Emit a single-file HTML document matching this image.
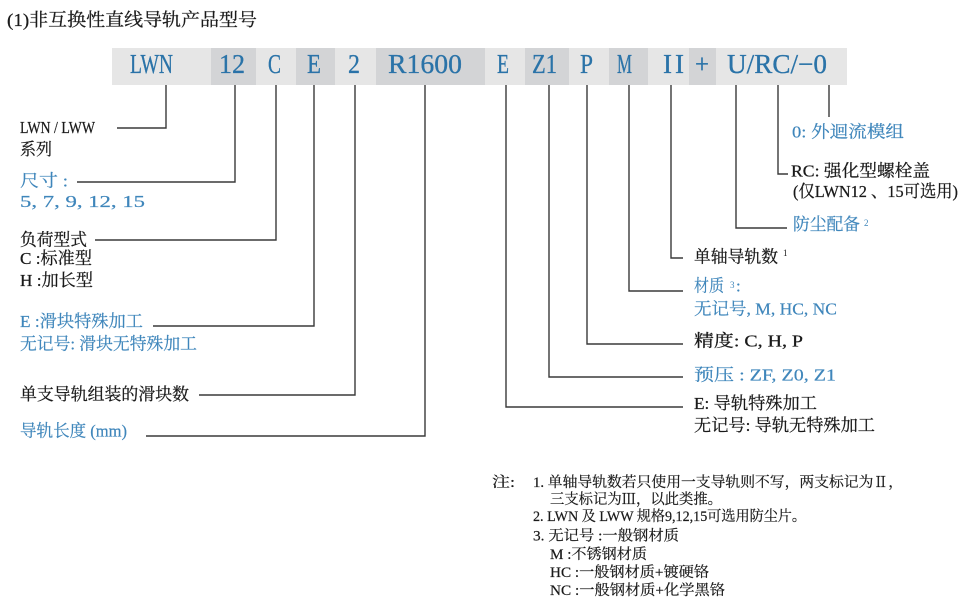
<!DOCTYPE html>
<html><head><meta charset="utf-8"><style>
html,body{margin:0;padding:0;background:#fff;}
svg{display:block;}
text{font-family:"Liberation Serif","Noto Serif CJK SC",serif;}
.k{fill:#1a1a1a;font-size:17px;stroke:#1a1a1a;stroke-width:0.25px;}
.b{fill:#3f86bb;font-size:17px;stroke:#3f86bb;stroke-width:0.2px;}
.n{fill:#1a1a1a;font-size:14.5px;stroke:#1a1a1a;stroke-width:0.2px;}
.bar{fill:#2a73a8;font-size:27px;stroke:#2a73a8;stroke-width:0.3px;}
.sup{font-size:9px;stroke-width:0;}
</style></head><body>
<svg width="966" height="607" viewBox="0 0 966 607" xmlns="http://www.w3.org/2000/svg">
<text x="7" y="26" class="k" style="font-size:18px" textLength="250" lengthAdjust="spacingAndGlyphs">(1)非互换性直线导轨产品型号</text>

<g>
<rect x="112" y="48" width="99" height="37" fill="#e6e6e6"/>
<rect x="211" y="48" width="45" height="37" fill="#d3d4d6"/>
<rect x="256" y="48" width="40" height="37" fill="#e6e6e6"/>
<rect x="296" y="48" width="39" height="37" fill="#d3d4d6"/>
<rect x="335" y="48" width="41" height="37" fill="#e6e6e6"/>
<rect x="376" y="48" width="109" height="37" fill="#d3d4d6"/>
<rect x="485" y="48" width="40" height="37" fill="#e6e6e6"/>
<rect x="525" y="48" width="44" height="37" fill="#d3d4d6"/>
<rect x="569" y="48" width="40" height="37" fill="#e6e6e6"/>
<rect x="609" y="48" width="39" height="37" fill="#d3d4d6"/>
<rect x="648" y="48" width="41" height="37" fill="#e6e6e6"/>
<rect x="689" y="48" width="27" height="37" fill="#d3d4d6"/>
<rect x="716" y="48" width="131" height="37" fill="#e6e6e6"/>
</g>
<g>
<text x="130" y="73" class="bar" textLength="43" lengthAdjust="spacingAndGlyphs">LWN</text>
<text x="219" y="73" class="bar" textLength="26" lengthAdjust="spacingAndGlyphs">12</text>
<text x="268" y="73" class="bar" textLength="13" lengthAdjust="spacingAndGlyphs">C</text>
<text x="307" y="73" class="bar" textLength="14" lengthAdjust="spacingAndGlyphs">E</text>
<text x="348" y="73" class="bar" textLength="12" lengthAdjust="spacingAndGlyphs">2</text>
<text x="388" y="73" class="bar" textLength="74" lengthAdjust="spacingAndGlyphs">R1600</text>
<text x="497" y="73" class="bar" textLength="12" lengthAdjust="spacingAndGlyphs">E</text>
<text x="532" y="73" class="bar" textLength="25" lengthAdjust="spacingAndGlyphs">Z1</text>
<text x="580" y="73" class="bar" textLength="13" lengthAdjust="spacingAndGlyphs">P</text>
<text x="617" y="73" class="bar" textLength="15" lengthAdjust="spacingAndGlyphs">M</text>
<text x="663" y="73" class="bar" textLength="21" lengthAdjust="spacing">II</text>
<text x="695" y="73" class="bar" textLength="14" lengthAdjust="spacingAndGlyphs">+</text>
<text x="727" y="73" class="bar" textLength="100" lengthAdjust="spacingAndGlyphs">U/RC/−0</text>
</g>

<g fill="none" stroke="#3a3a3a" stroke-width="1.4">
<polyline points="166,85 166,128 117,128"/>
<polyline points="235,85 235,182 77,182"/>
<polyline points="276,85 276,240 95,240"/>
<polyline points="314,85 314,326 153,326"/>
<polyline points="355,85 355,395 199,395"/>
<polyline points="425,85 425,436 146,436"/>
<polyline points="506,85 506,407 683,407"/>
<polyline points="549,85 549,377 683,377"/>
<polyline points="587,85 587,344 683,344"/>
<polyline points="629,85 629,291 683,291"/>
<polyline points="671,85 671,258 683,258"/>
<polyline points="736,85 736,228 787,228"/>
<polyline points="778,85 778,174 788,174"/>
<polyline points="829,85 829,117"/>
</g>

<text x="20" y="133" class="k" textLength="75" lengthAdjust="spacingAndGlyphs">LWN / LWW</text>
<text x="20" y="155" class="k" textLength="32" lengthAdjust="spacingAndGlyphs">系列</text>
<text x="20" y="186.5" class="b" textLength="48" lengthAdjust="spacingAndGlyphs">尺寸 :</text>
<text x="20" y="207" class="b" textLength="125" lengthAdjust="spacingAndGlyphs">5,  7,  9,  12,  15</text>
<text x="20" y="245.5" class="k" textLength="67" lengthAdjust="spacingAndGlyphs">负荷型式</text>
<text x="20" y="264" class="k" textLength="72" lengthAdjust="spacingAndGlyphs">C :标准型</text>
<text x="20" y="286" class="k" textLength="73" lengthAdjust="spacingAndGlyphs">H :加长型</text>
<text x="20" y="327" class="b" textLength="123" lengthAdjust="spacingAndGlyphs">E :滑块特殊加工</text>
<text x="20" y="349.5" class="b" textLength="177" lengthAdjust="spacingAndGlyphs">无记号: 滑块无特殊加工</text>
<text x="20" y="400" class="k" textLength="169" lengthAdjust="spacingAndGlyphs">单支导轨组装的滑块数</text>
<text x="20" y="436.5" class="b" textLength="107" lengthAdjust="spacingAndGlyphs">导轨长度 (mm)</text>

<text x="792" y="137.5" class="b" textLength="112" lengthAdjust="spacingAndGlyphs">0:  外迴流模组</text>
<text x="791" y="176.5" class="k" textLength="139" lengthAdjust="spacingAndGlyphs">RC:  强化型螺栓盖</text>
<text x="793" y="197" class="k" textLength="165" lengthAdjust="spacingAndGlyphs">(仅LWN12 、15可选用)</text>
<text x="793" y="230" class="b" textLength="67" lengthAdjust="spacingAndGlyphs">防尘配备</text>
<text x="864" y="226" class="b sup">2</text>
<text x="694" y="262.5" class="k" textLength="84" lengthAdjust="spacingAndGlyphs">单轴导轨数</text>
<text x="783" y="256" class="k sup">1</text>
<text x="694" y="291.5" class="b" textLength="30" lengthAdjust="spacingAndGlyphs">材质</text>
<text x="730" y="288" class="b sup">3</text>
<text x="736" y="291.5" class="b">:</text>
<text x="694" y="314.5" class="b" textLength="143" lengthAdjust="spacingAndGlyphs">无记号, M,  HC,  NC</text>
<text x="694" y="346.5" class="k" textLength="109" lengthAdjust="spacingAndGlyphs">精度:  C,  H,  P</text>
<text x="694" y="380.5" class="b" textLength="142" lengthAdjust="spacingAndGlyphs">预压 :  ZF,  Z0,  Z1</text>
<text x="694" y="409" class="k" textLength="123" lengthAdjust="spacingAndGlyphs">E: 导轨特殊加工</text>
<text x="694" y="431" class="k" textLength="181" lengthAdjust="spacingAndGlyphs">无记号: 导轨无特殊加工</text>

<text x="492" y="487" class="n" textLength="23" lengthAdjust="spacingAndGlyphs">注:</text>
<text x="533" y="487" class="n" textLength="370" lengthAdjust="spacingAndGlyphs">1. 单轴导轨数若只使用一支导轨则不写，两支标记为Ⅱ，</text>
<text x="550" y="504" class="n" textLength="172" lengthAdjust="spacingAndGlyphs">三支标记为Ⅲ，以此类推。</text>
<text x="533" y="521" class="n" textLength="273" lengthAdjust="spacingAndGlyphs">2. LWN 及 LWW 规格9,12,15可选用防尘片。</text>
<text x="533" y="540.5" class="n" textLength="146" lengthAdjust="spacingAndGlyphs">3. 无记号 :一般钢材质</text>
<text x="550" y="559" class="n" textLength="97" lengthAdjust="spacingAndGlyphs">M :不锈钢材质</text>
<text x="550" y="577" class="n" textLength="159" lengthAdjust="spacingAndGlyphs">HC :一般钢材质+镀硬铬</text>
<text x="550" y="595" class="n" textLength="175" lengthAdjust="spacingAndGlyphs">NC :一般钢材质+化学黑铬</text>
</svg>
</body></html>
